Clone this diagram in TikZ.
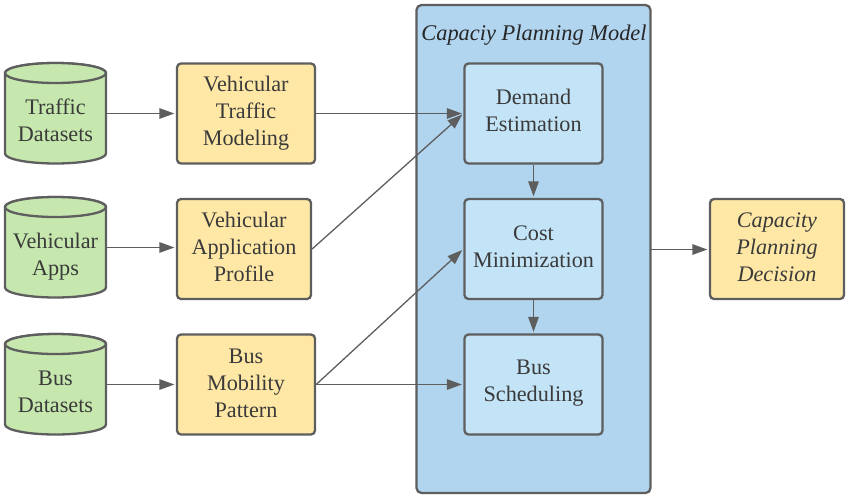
\documentclass[tikz,border=0pt]{standalone}
\usepackage{fontspec}
\setmainfont{Liberation Serif}
\usetikzlibrary{arrows.meta}
\definecolor{edge}{HTML}{5E5E5E}
\definecolor{txt}{HTML}{3A3A3A}
\definecolor{yelc}{HTML}{FFE8A6}
\definecolor{bluc}{HTML}{C3E3F7}
\definecolor{grc}{HTML}{C6E8AE}
\definecolor{bigc}{HTML}{B1D4EF}
\tikzset{
 x=1pt,y=-1pt,
 every node/.style={font=\fontsize{22.2}{27}\selectfont,text=txt,align=center},
 boxbase/.style={draw=edge,line width=2.3pt,rounded corners=4pt,inner sep=0pt,minimum height=100pt},
 yel/.style={boxbase,fill=yelc},
 blu/.style={boxbase,fill=bluc,minimum width=138pt},
 conn/.style={draw=edge,line width=1.3pt,shorten >=1.5pt,-{Triangle[length=15pt,width=10.5pt]}},
 cylbody/.style={draw=edge,line width=2.3pt,fill=grc,line join=round},
 cyllab/.style={minimum width=101pt,minimum height=100pt,inner sep=0pt}
}
\newcommand{\cylshape}[2]{%
  \path[cylbody] (#1-50.5,#2-40.5) -- (#1-50.5,#2+40) arc[start angle=180,end angle=360,x radius=50.5,y radius=-10] -- (#1+50.5,#2-40.5) arc[start angle=0,end angle=180,x radius=50.5,y radius=-10] -- cycle;
  \path[cylbody] (#1-50.5,#2-40.5) arc[start angle=180,end angle=360,x radius=50.5,y radius=-10] arc[start angle=0,end angle=180,x radius=50.5,y radius=-10] -- cycle;
}
\newcommand{\dn}[1]{\rule[-#1pt]{0pt}{#1pt}}
\begin{document}
\begin{tikzpicture}
\useasboundingbox (0,0) rectangle (850,499);
\cylshape{55.5}{113.5}
\cylshape{55.5}{247.5}
\cylshape{55.5}{384.5}
\node[cyllab] (c1) at (55.5,113.5) {};
\node[cyllab] (c2) at (55.5,247.5) {};
\node[cyllab] (c3) at (55.5,384.5) {};
\node (t1) at (55.5,120.5) {Traffic\\Datasets};
\node (t2) at (55.5,257) {Vehicular\\Apps};
\node (t3) at (55.5,392) {Bus\\Datasets};
\node[yel,minimum width=138pt] (a1) at (246,113.5) {Vehicular\\Traffic\\Modeling};
\node[yel,minimum width=134pt] (a2) at (244,249) {Vehicular\\Application\\Profile\dn{4}};
\node[yel,minimum width=138pt] (a3) at (246,384.5) {Bus\\Mobility\\Pattern\dn{2}};
\node[draw=edge,line width=2.3pt,fill=bigc,rounded corners=5pt,minimum width=234pt,minimum height=488pt,inner sep=0pt] (big) at (533.5,249) {};
\node[font=\fontsize{22.4}{27}\selectfont\itshape,text=black!85] (title) at (534,35.5) {Capaciy Planning Model};
\node[blu] (b1) at (533.5,113.5) {Demand\\Estimation\dn{6}};
\node[blu] (b2) at (533.5,249) {Cost\\Minimization\dn{4}};
\node[blu] (b3) at (533.5,384.5) {Bus\\Scheduling\dn{6.7}};
\node[yel,minimum width=134pt,font=\fontsize{22.2}{27}\selectfont\itshape] (d) at (777,249) {Capacity\\Planning\\Decision\dn{4}};
\coordinate (dout) at (651,249.5);
\draw[conn] (c1) -- (a1);
\draw[conn] (c2) -- (c2 -| a2.west);
\draw[conn] (c3) -- (a3);
\draw[conn] (a1) -- (b1);
\draw[conn] (a2.east) -- (b1.west);
\draw[conn] (a3.east) -- (b2.west);
\draw[conn] (a3) -- (b3);
\draw[conn] (b1) -- (b2);
\draw[conn] (b2) -- (b3);
\draw[conn] (dout) -- (dout -| d.west);
\end{tikzpicture}
\end{document}
